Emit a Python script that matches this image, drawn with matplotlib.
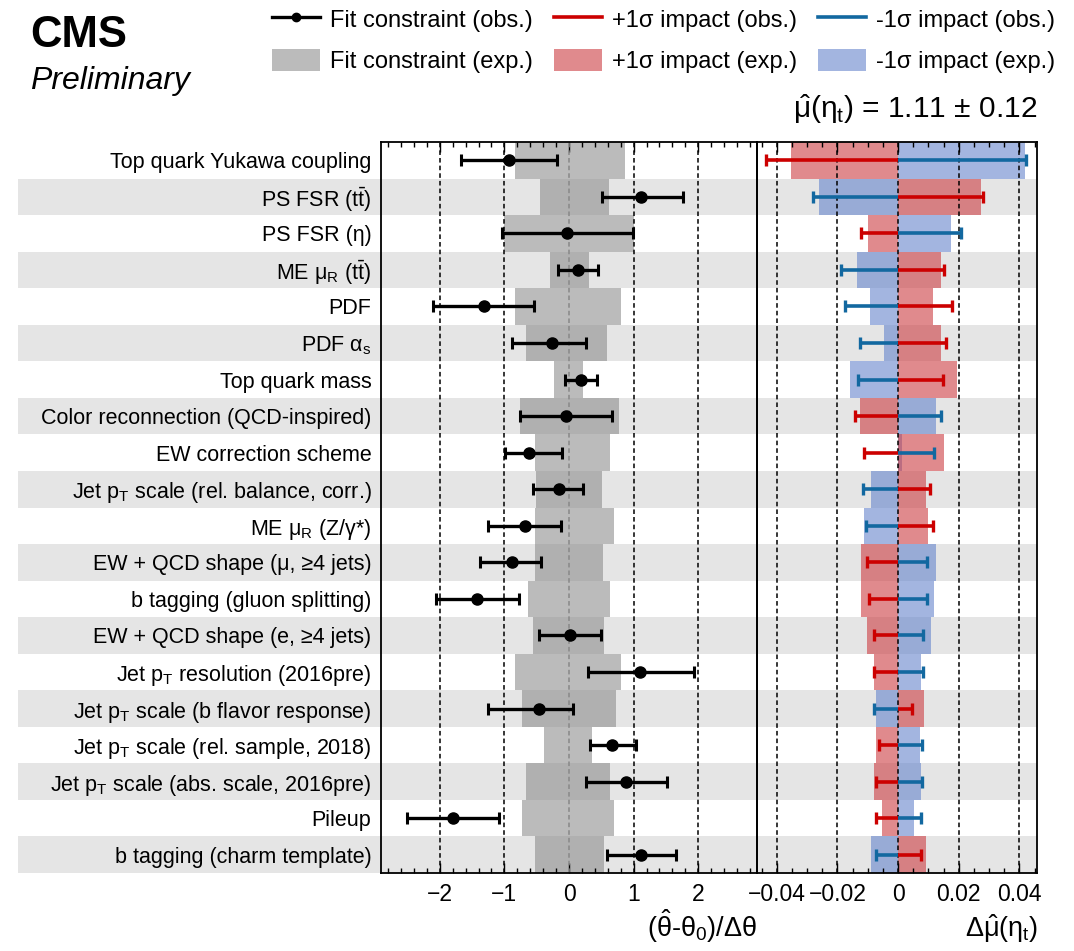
import matplotlib
matplotlib.use('Agg')
import matplotlib.pyplot as plt
from matplotlib import font_manager
from matplotlib.lines import Line2D
from matplotlib.patches import Patch
from matplotlib.ticker import MultipleLocator
import numpy as np

# nuisance parameters, top to bottom
labels = [
    "Top quark Yukawa coupling",
    r"PS FSR ($\mathrm{t\bar{t}}$)",
    "PS FSR (η)",
    r"ME μ$_\mathrm{R}$ ($\mathrm{t\bar{t}}$)",
    "PDF",
    r"PDF α$_\mathrm{s}$",
    "Top quark mass",
    "Color reconnection (QCD-inspired)",
    "EW correction scheme",
    r"Jet p$_\mathrm{T}$ scale (rel. balance, corr.)",
    r"ME μ$_\mathrm{R}$ (Z/γ*)",
    "EW + QCD shape (μ, ≥4 jets)",
    "b tagging (gluon splitting)",
    "EW + QCD shape (e, ≥4 jets)",
    r"Jet p$_\mathrm{T}$ resolution (2016pre)",
    r"Jet p$_\mathrm{T}$ scale (b flavor response)",
    r"Jet p$_\mathrm{T}$ scale (rel. sample, 2018)",
    r"Jet p$_\mathrm{T}$ scale (abs. scale, 2016pre)",
    "Pileup",
    "b tagging (charm template)",
]

# observed pulls: best fit and interval edges
pull_val = [-0.93, 1.12, -0.03, 0.14, -1.32, -0.27, 0.19, -0.05, -0.62, -0.15,
            -0.68, -0.89, -1.42, 0.01, 1.10, -0.47, 0.67, 0.88, -1.79, 1.12]
pull_lo = [-1.67, 0.51, -1.04, -0.17, -2.11, -0.89, -0.06, -0.76, -0.99, -0.56,
           -1.25, -1.38, -2.06, -0.47, 0.29, -1.25, 0.33, 0.26, -2.50, 0.59]
pull_hi = [-0.19, 1.76, 0.995, 0.45, -0.54, 0.27, 0.43, 0.67, -0.11, 0.22,
           -0.12, -0.43, -0.78, 0.50, 1.93, 0.06, 1.03, 1.51, -1.09, 1.66]
# expected constraint band
exp_lo = [-0.84, -0.455, -1.0, -0.30, -0.83, -0.66, -0.23, -0.76, -0.53, -0.51,
          -0.53, -0.53, -0.63, -0.56, -0.84, -0.73, -0.38, -0.66, -0.73, -0.53]
exp_hi = [0.87, 0.62, 1.0, 0.31, 0.81, 0.59, 0.21, 0.77, 0.64, 0.51,
          0.69, 0.52, 0.64, 0.54, 0.81, 0.72, 0.36, 0.64, 0.69, 0.54]

# impacts on mu
imp_up_obs = [-0.0434, 0.0280, -0.0123, 0.0152, 0.0179, 0.0157, 0.0148, -0.0143, -0.0111, 0.0104,
              0.0115, -0.0101, -0.0096, -0.0079, -0.0079, 0.0047, -0.0063, -0.0073, -0.0073, 0.0074]
imp_dn_obs = [0.0421, -0.0282, 0.0207, -0.0187, -0.0176, -0.0126, -0.0132, 0.0141, 0.0120, -0.0116,
              -0.0105, 0.0095, 0.0095, 0.0082, 0.0082, -0.0080, 0.0079, 0.0079, 0.0074, -0.0073]
imp_up_exp = [-0.0352, 0.0275, -0.0100, 0.0141, 0.0114, 0.0141, 0.0195, -0.0126, 0.0152, 0.0091,
              0.0098, -0.0121, -0.0121, -0.0104, -0.0078, 0.0087, -0.0073, -0.0078, -0.0052, 0.0092]
imp_dn_exp = [0.0419, -0.0260, 0.0173, -0.0137, -0.0093, -0.0045, -0.0158, 0.0124, 0.0012, -0.0088,
              -0.0111, 0.0124, 0.0118, 0.0109, 0.0076, -0.0074, 0.0071, 0.0076, 0.0054, -0.0089]

pull_ticks = [-2, -1, 0, 1, 2]
pull_ticklabels = ['\u22122', '\u22121', '0', '1', '2']
imp_ticks = [-0.04, -0.02, 0, 0.02, 0.04]
imp_ticklabels = ['\u22120.04', '\u22120.02', '0', '0.02', '0.04']

names = {f.name for f in font_manager.fontManager.ttflist}
if 'Liberation Sans Narrow' in names:
    lab_family = ['Liberation Sans Narrow', 'DejaVu Sans']
    lab_fs = 18.5
else:
    lab_family = ['Liberation Sans', 'DejaVu Sans']
    lab_fs = 15.5

plt.rcParams['font.family'] = ['Liberation Sans', 'DejaVu Sans']
plt.rcParams['mathtext.fontset'] = 'custom'
plt.rcParams['mathtext.rm'] = 'Liberation Sans'
plt.rcParams['mathtext.it'] = 'Liberation Sans'
plt.rcParams['mathtext.bf'] = 'Liberation Sans:bold'

red_line = '#cc0000'
blue_line = '#1268a0'
red_fill = (0.80, 0.24, 0.26)
blue_fill = (0.40, 0.52, 0.80)
gray_fill = (0.54, 0.54, 0.54)
stripe = '#e5e5e5'

W, H = 1074, 951
fig = plt.figure(figsize=(W / 100, H / 100), dpi=100)

def fx(px):
    return px / W

def fy(py):
    return 1 - py / H

top, bot = 142, 873
n = len(labels)
y = np.arange(n)

# alternating row stripes behind everything
bg = fig.add_axes([fx(18), fy(bot), fx(1037) - fx(18), fy(top) - fy(bot)])
bg.barh(y[1::2], 1, left=0, height=1, color=stripe)
bg.set_xlim(0, 1)
bg.set_ylim(n - 0.5, -0.5)
bg.axis('off')

ax1 = fig.add_axes([fx(381), fy(bot), fx(757) - fx(381), fy(top) - fy(bot)])
ax2 = fig.add_axes([fx(757), fy(bot), fx(1037) - fx(757), fy(top) - fy(bot)])
for ax in (ax1, ax2):
    ax.set_facecolor('none')
    ax.set_ylim(n - 0.5, -0.5)
    for s in ax.spines.values():
        s.set_linewidth(1.3)

dash = (0, (3, 2))

# pulls panel
pv = np.array(pull_val)
ax1.barh(y, np.array(exp_hi) - np.array(exp_lo), left=exp_lo, height=1,
         color=gray_fill, alpha=0.58, lw=0, zorder=1)
for t in pull_ticks:
    ax1.axvline(t, color='#888888' if t == 0 else 'k', ls=dash, lw=1.1, zorder=2)
ax1.errorbar(pv, y, xerr=[pv - np.array(pull_lo), np.array(pull_hi) - pv], fmt='o',
             color='k', ms=8, lw=2.4, capsize=4.5, capthick=2.2, zorder=3)
ax1.set_xlim(-2.91, 2.91)
ax1.set_xticks(pull_ticks, pull_ticklabels, fontsize=16.5)
ax1.xaxis.set_minor_locator(MultipleLocator(0.2))
ax1.set_yticks(y, labels, fontsize=lab_fs, family=lab_family)
ax1.tick_params(axis='y', length=0, pad=7)

# impacts panel
ax2.barh(y, imp_dn_exp, height=1, color=blue_fill, alpha=0.6, lw=0, zorder=1)
ax2.barh(y, imp_up_exp, height=1, color=red_fill, alpha=0.6, lw=0, zorder=1)
for t in imp_ticks:
    ax2.axvline(t, color='k', ls=dash, lw=1.1, zorder=2)
ax2.hlines(y, 0, imp_up_obs, color=red_line, lw=2.6, zorder=3)
ax2.plot(imp_up_obs, y, ls='none', marker='|', ms=9, mew=2.4, color=red_line, zorder=3)
ax2.hlines(y, 0, imp_dn_obs, color=blue_line, lw=2.6, zorder=3)
ax2.plot(imp_dn_obs, y, ls='none', marker='|', ms=9, mew=2.4, color=blue_line, zorder=3)
ax2.set_xlim(-0.0465, 0.0458)
ax2.set_xticks(imp_ticks, imp_ticklabels, fontsize=16.5)
ax2.xaxis.set_minor_locator(MultipleLocator(0.005))
ax2.set_yticks([])

for ax in (ax1, ax2):
    ax.tick_params(axis='x', which='both', direction='in', top=True, bottom=True, pad=7, width=1)
    ax.tick_params(axis='x', which='major', length=7)
    ax.tick_params(axis='x', which='minor', length=3.5)

fig.text(fx(757), fy(937), r"$(\hat{\theta}$-$\theta_{0})/\Delta\theta$", fontsize=19.5,
         ha='right', va='baseline')
fig.text(fx(1038), fy(937), r"$\Delta\hat{\mu}(\eta_{\mathrm{t}})$", fontsize=19.5,
         ha='right', va='baseline')

# header
fig.text(fx(30), fy(47), "CMS", fontsize=31.5, fontweight='bold', va='baseline')
fig.text(fx(30), fy(89), "Preliminary", fontsize=23, style='italic', va='baseline')
fig.text(fx(1037), fy(118), r"$\hat{\mu}(\eta_{\mathrm{t}})$ = 1.11 ± 0.12", fontsize=21.5,
         ha='right', va='baseline')

handles = [
    Line2D([], [], color='k', lw=2.4, marker='o', ms=6),
    Patch(facecolor=gray_fill, alpha=0.58, lw=0),
    Line2D([], [], color=red_line, lw=2.6),
    Patch(facecolor=red_fill, alpha=0.6, lw=0),
    Line2D([], [], color=blue_line, lw=2.6),
    Patch(facecolor=blue_fill, alpha=0.6, lw=0),
]
leg_labels = ["Fit constraint (obs.)", "Fit constraint (exp.)",
              "+1σ impact (obs.)", "+1σ impact (exp.)",
              "-1σ impact (obs.)", "-1σ impact (exp.)"]
fig.legend(handles, leg_labels, ncol=3, loc='upper left', bbox_to_anchor=(fx(272), fy(7)),
           frameon=False, fontsize=17, handlelength=2.03, handleheight=1.12,
           handletextpad=0.42, columnspacing=0.9, labelspacing=0.72,
           borderpad=0, borderaxespad=0)

fig.savefig('out.png', dpi=100)
